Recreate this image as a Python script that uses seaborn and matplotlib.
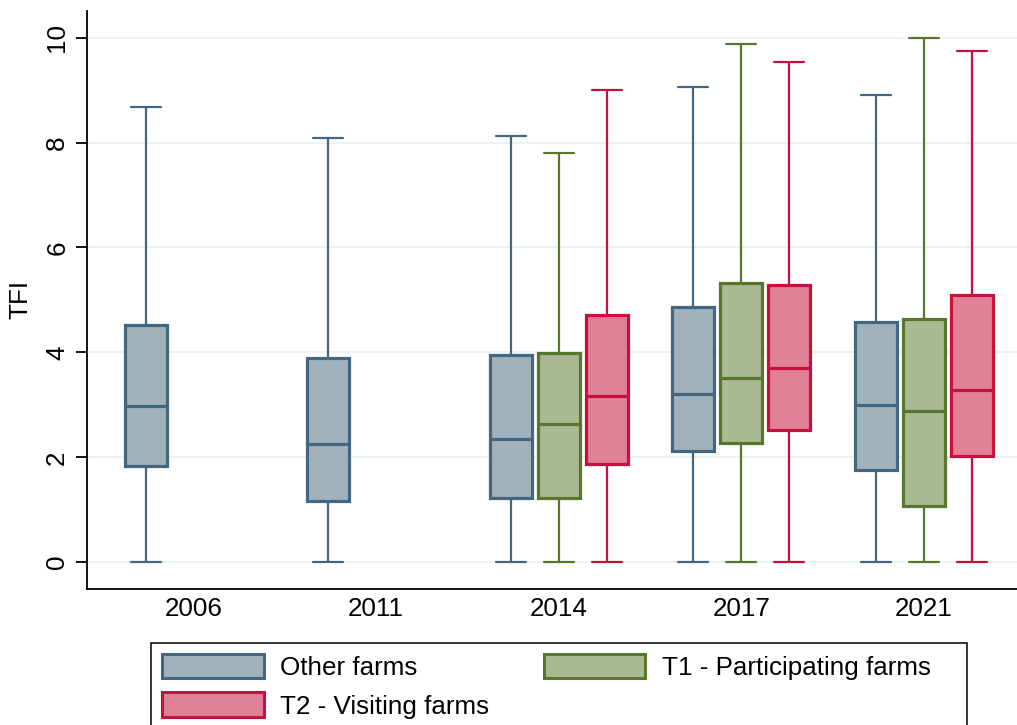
import numpy as np
import pandas as pd
import matplotlib
matplotlib.use("Agg")
import matplotlib.pyplot as plt
from matplotlib.patches import Patch, Rectangle
import seaborn as sns

# categories
years = ["2006", "2011", "2014", "2017", "2021"]
groups = ["Other farms", "T1 - Participating farms", "T2 - Visiting farms"]

# five-number summaries (min, q1, median, q3, max)
other_years = ["2006", "2011", "2014", "2017", "2021"]
other_min = [0, 0, 0, 0, 0]
other_q1 = [1.83, 1.17, 1.23, 2.12, 1.75]
other_med = [2.98, 2.25, 2.35, 3.21, 3.00]
other_q3 = [4.53, 3.90, 3.95, 4.87, 4.57]
other_max = [8.67, 8.08, 8.12, 9.05, 8.90]

t1_years = ["2014", "2017", "2021"]
t1_min = [0, 0, 0]
t1_q1 = [1.23, 2.28, 1.08]
t1_med = [2.64, 3.52, 2.89]
t1_q3 = [3.99, 5.32, 4.63]
t1_max = [7.80, 9.88, 10.0]

t2_years = ["2014", "2017", "2021"]
t2_min = [0, 0, 0]
t2_q1 = [1.87, 2.53, 2.03]
t2_med = [3.17, 3.71, 3.29]
t2_q3 = [4.72, 5.29, 5.09]
t2_max = [9.00, 9.54, 9.75]

fills = {"Other farms": "#a2b2bd",
         "T1 - Participating farms": "#aab893",
         "T2 - Visiting farms": "#e08198"}
edges = {"Other farms": "#436781",
         "T1 - Participating farms": "#58772d",
         "T2 - Visiting farms": "#c8103e"}

# long table: the 5 summary values per box reproduce the quartiles exactly
rows = []
for g, yrs, stats in [
    (groups[0], other_years, [other_min, other_q1, other_med, other_q3, other_max]),
    (groups[1], t1_years, [t1_min, t1_q1, t1_med, t1_q3, t1_max]),
    (groups[2], t2_years, [t2_min, t2_q1, t2_med, t2_q3, t2_max]),
]:
    for i, yr in enumerate(yrs):
        for s in stats:
            rows.append({"year": yr, "group": g, "TFI": s[i]})
df = pd.DataFrame(rows)

sns.set_style("white")
plt.rcParams["font.family"] = ["Liberation Sans", "DejaVu Sans"]
plt.rcParams["text.color"] = "black"
plt.rcParams["axes.labelcolor"] = "black"
plt.rcParams["xtick.color"] = "black"
plt.rcParams["ytick.color"] = "black"
fs = 18.7

fig = plt.figure(figsize=(10.17, 7.25), dpi=100)
ax = fig.add_axes([0.0858, 0.1876, 1 - 0.0858, 0.985 - 0.1876])

for g in groups:
    sub = df[df["group"] == g]
    sns.boxplot(data=sub, x="year", y="TFI", hue="group", order=years,
                hue_order=groups, palette=fills, saturation=1, dodge=True,
                width=0.79, gap=0.125, whis=(0, 100), linecolor=edges[g],
                linewidth=2.3, whiskerprops={"linewidth": 1.6},
                capprops={"linewidth": 1.6}, legend=False, ax=ax)

# widen whisker caps a bit
for ln in ax.lines:
    xd = np.asarray(ln.get_xdata(), dtype=float)
    yd = np.asarray(ln.get_ydata(), dtype=float)
    if len(xd) == 2 and yd[0] == yd[1] and abs(xd[1] - xd[0]) < 0.15:
        c = xd.mean()
        ln.set_xdata([c - 0.082, c + 0.082])

ax.set_xlim(-0.583, 4.51)
ax.set_ylim(-0.51, 10.51)
ax.set_yticks([0, 2, 4, 6, 8, 10])
ax.yaxis.grid(True, color="#eaf2f3", linewidth=1.5)
ax.xaxis.grid(False)
ax.set_axisbelow(True)

for s in ["top", "right"]:
    ax.spines[s].set_visible(False)
for s in ["left", "bottom"]:
    ax.spines[s].set_color("black")
    ax.spines[s].set_linewidth(1.3)

ax.tick_params(axis="y", left=True, length=8, width=1.3, pad=5,
               labelsize=fs, labelrotation=90, colors="black")
for t in ax.get_yticklabels():
    t.set_va("center")
ax.tick_params(axis="x", bottom=False, length=0, pad=6, labelsize=fs,
               colors="black")
ax.set_xlabel("")
ax.set_ylabel("TFI", fontsize=fs, labelpad=9, color="black")

handles = [Patch(facecolor=fills[g], edgecolor=edges[g], linewidth=2.2)
           for g in [groups[0], groups[2], groups[1]]]
labels = [groups[0], groups[2], groups[1]]
leg = fig.legend(handles, labels, ncol=2, loc="upper left",
                 bbox_to_anchor=(0.1485, 0.1135), bbox_transform=fig.transFigure,
                 fontsize=fs, frameon=False, handlelength=3.92,
                 handleheight=1.08, handletextpad=0.63, labelspacing=0.48,
                 columnspacing=2.08, borderpad=0.43, borderaxespad=0)
for t in leg.get_texts():
    t.set_color("black")

# legend frame, wider on the right as in the original
fig.patches.append(Rectangle((151 / 1017, -0.05), (967 - 151) / 1017, 0.1135 + 0.05,
                             transform=fig.transFigure, fill=False,
                             edgecolor="black", linewidth=1.1, zorder=0))

fig.savefig("out.png", dpi=100)
